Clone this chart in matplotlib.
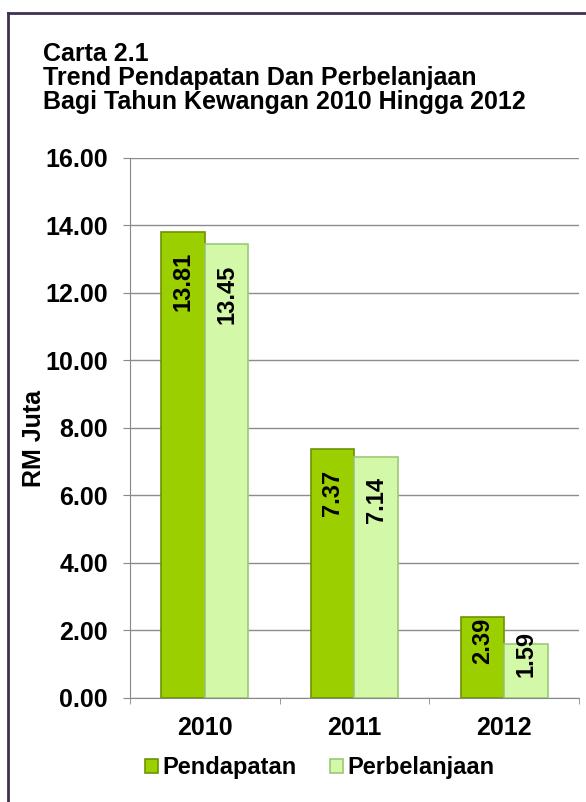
import matplotlib.pyplot as plt
import numpy as np
from matplotlib.lines import Line2D

plt.rcParams['font.family'] = ['Liberation Sans', 'DejaVu Sans']
plt.rcParams['font.weight'] = 'bold'

years = ["2010", "2011", "2012"]
pendapatan = [13.81, 7.37, 2.39]
perbelanjaan = [13.45, 7.14, 1.59]
series_names = ["Pendapatan", "Perbelanjaan"]
title = "Carta 2.1\nTrend Pendapatan Dan Perbelanjaan\nBagi Tahun Kewangan 2010 Hingga 2012"

fig = plt.figure(figsize=(5.86, 8.02), dpi=100)
ax = fig.add_axes([0.2218, 0.1297, 0.7662, 0.6733])

x = np.arange(len(years))
w = 0.29
b1 = ax.bar(x - w / 2, pendapatan, w, color="#9CCF00", edgecolor="#6E9400",
            linewidth=1.2, label=series_names[0], zorder=3)
b2 = ax.bar(x + w / 2, perbelanjaan, w, color="#D2F8A8", edgecolor="#9CC878",
            linewidth=1.2, label=series_names[1], zorder=3)

for bars, vals in [(b1, pendapatan), (b2, perbelanjaan)]:
    for rect, v in zip(bars, vals):
        cx = rect.get_x() + rect.get_width() / 2
        if v > 4:
            ax.text(cx, v - 0.6, f"{v:.2f}", rotation=90, ha="center", va="top",
                    fontsize=17, fontweight="bold", zorder=4)
        else:
            ax.text(cx, v / 2 + 0.5, f"{v:.2f}", rotation=90, ha="center", va="center",
                    fontsize=17, fontweight="bold", zorder=4)

ax.set_xlim(-0.5, 2.5)
ax.set_ylim(0, 16)
yt = np.arange(0, 17, 2)
ax.set_yticks(yt)
ax.set_yticklabels([f"{t:.2f}" for t in yt], fontsize=18, fontweight="bold")
ax.set_xticks(x)
ax.set_xticklabels(years, fontsize=18, fontweight="bold")
ax.set_xticks([-0.5, 0.5, 1.5, 2.5], minor=True)
ax.tick_params(axis="x", which="major", length=0, pad=13)
ax.tick_params(axis="x", which="minor", length=4, color="#888888")
ax.tick_params(axis="y", length=5, color="#888888", pad=11)
ax.grid(axis="y", color="#8c8c8c", linewidth=1, zorder=0)
for s in ["top", "right"]:
    ax.spines[s].set_visible(False)
ax.spines["left"].set_color("#888888")
ax.spines["bottom"].set_color("#888888")
ax.set_ylabel("RM Juta", fontsize=18, fontweight="bold")
ax.yaxis.set_label_coords(-0.187, 0.48)

fig.text(0.073, 0.948, title, fontsize=18, fontweight="bold", va="top", ha="left",
         linespacing=1.0)

fig.legend(loc="center", bbox_to_anchor=(0.546, 0.0424), ncol=2, frameon=False,
           prop={"size": 17, "weight": "bold"}, handlelength=0.55, handleheight=0.55,
           handletextpad=0.2, columnspacing=1.4)

# frame cut off at right and bottom, as in the source screenshot
border = "#3F3151"
fig.add_artist(Line2D([0.0145, 1.0], [0.9838, 0.9838], transform=fig.transFigure,
                      color=border, linewidth=2))
fig.add_artist(Line2D([0.0145, 0.0145], [0.0, 0.9838], transform=fig.transFigure,
                      color=border, linewidth=2))

fig.savefig("out.png", dpi=100)
